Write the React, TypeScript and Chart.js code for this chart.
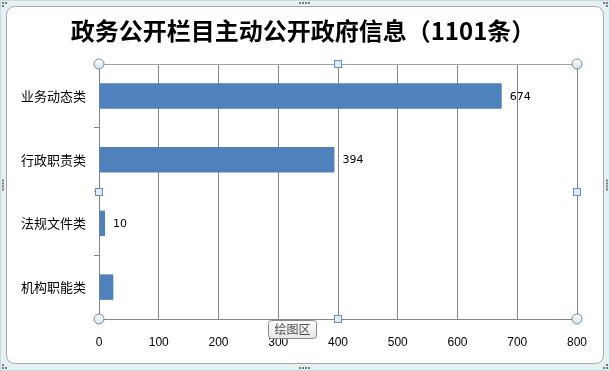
import React, { useEffect, useRef } from "react";
import { Chart, registerables } from "chart.js";

Chart.register(...registerables);

const TITLE = "政务公开栏目主动公开政府信息（1101条）";
const categories = ["业务动态类", "行政职责类", "法规文件类", "机构职能类"];
const values = [674, 394, 10, 24];
const showValueLabel = [true, true, true, false];
const xTicks = [0, 100, 200, 300, 400, 500, 600, 700, 800];

const framePlugin = {
  id: "frame",
  beforeDraw(chart: any) {
    const ctx = chart.ctx;
    const W = chart.width, H = chart.height;
    ctx.save();
    ctx.fillStyle = "#e6f1f3";
    ctx.fillRect(0, 0, W, H);
    ctx.strokeStyle = "#c9dadd";
    ctx.lineWidth = 1;
    ctx.strokeRect(0.5, 0.5, W - 1, H - 1);
    const x0 = 6.5, y0 = 6.5, x1 = W - 6.5, y1 = H - 7.5, r = 9;
    ctx.beginPath();
    ctx.moveTo(x0 + r, y0);
    ctx.lineTo(x1 - r, y0);
    ctx.quadraticCurveTo(x1, y0, x1, y0 + r);
    ctx.lineTo(x1, y1 - r);
    ctx.quadraticCurveTo(x1, y1, x1 - r, y1);
    ctx.lineTo(x0 + r, y1);
    ctx.quadraticCurveTo(x0, y1, x0, y1 - r);
    ctx.lineTo(x0, y0 + r);
    ctx.quadraticCurveTo(x0, y0, x0 + r, y0);
    ctx.closePath();
    ctx.fillStyle = "#ffffff";
    ctx.fill();
    ctx.strokeStyle = "#a6a6a6";
    ctx.stroke();
    ctx.fillStyle = "#7a7a7a";
    const dotsH = (cx: number, cy: number) => {
      for (let i = 0; i < 4; i++) ctx.fillRect(cx + i * 3, cy, 2, 2);
    };
    const dotsV = (cx: number, cy: number) => {
      for (let i = 0; i < 4; i++) ctx.fillRect(cx, cy + i * 3, 2, 2);
    };
    dotsH(W / 2 - 6, 2);
    dotsH(W / 2 - 6, H - 4);
    dotsV(2, H / 2 - 6);
    dotsV(W - 4, H / 2 - 6);
    ctx.fillRect(2, 2, 2, 2); ctx.fillRect(5, 2, 2, 2); ctx.fillRect(2, 5, 2, 2);
    ctx.fillRect(W - 4, 2, 2, 2); ctx.fillRect(W - 7, 2, 2, 2); ctx.fillRect(W - 4, 5, 2, 2);
    ctx.fillRect(2, H - 4, 2, 2); ctx.fillRect(5, H - 4, 2, 2); ctx.fillRect(2, H - 7, 2, 2);
    ctx.fillRect(W - 4, H - 4, 2, 2); ctx.fillRect(W - 7, H - 4, 2, 2); ctx.fillRect(W - 4, H - 7, 2, 2);
    ctx.fillStyle = "#000000";
    ctx.font = "bold 24px 'Noto Sans CJK SC', sans-serif";
    ctx.textAlign = "center";
    ctx.textBaseline = "middle";
    ctx.fillText(TITLE, W / 2 - 2, 31);
    ctx.restore();
  },
  afterDraw(chart: any) {
    const ctx = chart.ctx;
    const a = chart.chartArea;
    ctx.save();
    ctx.strokeStyle = "#a0a0a0";
    ctx.lineWidth = 1;
    ctx.beginPath();
    ctx.moveTo(a.left, Math.round(a.top) + 0.5);
    ctx.lineTo(a.right, Math.round(a.top) + 0.5);
    ctx.stroke();
    const meta = chart.getDatasetMeta(0);
    ctx.fillStyle = "#000000";
    ctx.font = "11px 'DejaVu Sans', sans-serif";
    ctx.textAlign = "left";
    ctx.textBaseline = "middle";
    meta.data.forEach((bar: any, i: number) => {
      if (!showValueLabel[i]) return;
      ctx.fillText(String(values[i]), bar.x + 8, bar.y + 1);
    });
    const cx = (a.left + a.right) / 2;
    const cy = (a.top + a.bottom) / 2;
    const circle = (x: number, y: number) => {
      ctx.beginPath();
      ctx.arc(x, y, 5, 0, Math.PI * 2);
      const g = ctx.createLinearGradient(x, y - 5, x, y + 5);
      g.addColorStop(0, "#ffffff");
      g.addColorStop(1, "#cfe3ea");
      ctx.fillStyle = g;
      ctx.fill();
      ctx.strokeStyle = "#7f8f99";
      ctx.stroke();
    };
    const square = (x: number, y: number) => {
      ctx.fillStyle = "#dcecf7";
      ctx.fillRect(x - 3.5, y - 3.5, 7, 7);
      ctx.strokeStyle = "#6d8db0";
      ctx.strokeRect(x - 3.5, y - 3.5, 7, 7);
    };
    circle(a.left, a.top);
    circle(a.right, a.top);
    circle(a.left, a.bottom);
    circle(a.right, a.bottom);
    square(Math.round(cx), Math.round(a.top));
    square(Math.round(cx), Math.round(a.bottom));
    square(Math.round(a.left), Math.round(cy));
    square(Math.round(a.right), Math.round(cy));
    const tx = 268.5, ty = 320.5, tw = 48, th = 18;
    ctx.beginPath();
    ctx.roundRect(tx, ty, tw, th, 3);
    const tg = ctx.createLinearGradient(0, ty, 0, ty + th);
    tg.addColorStop(0, "#ffffff");
    tg.addColorStop(1, "#e6e6ea");
    ctx.fillStyle = tg;
    ctx.fill();
    ctx.strokeStyle = "#8a8a8a";
    ctx.stroke();
    ctx.fillStyle = "#4d4d4d";
    ctx.font = "12px 'Noto Sans CJK SC', sans-serif";
    ctx.textAlign = "center";
    ctx.textBaseline = "middle";
    ctx.fillText("绘图区", tx + tw / 2, ty + th / 2);
    ctx.restore();
  },
};

export default function App() {
  const ref = useRef<HTMLCanvasElement | null>(null);
  useEffect(() => {
    if (!ref.current) return;
    const chart = new Chart(ref.current, {
      type: "bar",
      data: {
        labels: categories,
        datasets: [
          {
            data: values,
            backgroundColor: "#4f81bd",
            borderWidth: 0,
            categoryPercentage: 1,
            barPercentage: 0.4,
          },
        ],
      },
      options: {
        indexAxis: "y",
        responsive: false,
        animation: false,
        layout: { padding: { top: 64, right: 33, left: 0, bottom: 0 } },
        plugins: {
          legend: { display: false },
          title: { display: false },
          tooltip: { enabled: false },
        },
        scales: {
          x: {
            type: "linear",
            min: 0,
            max: 800,
            afterBuildTicks: (scale: any) => {
              scale.ticks = xTicks.map((v) => ({ value: v }));
            },
            afterFit: (scale: any) => {
              scale.height = 52;
            },
            ticks: {
              color: "#000000",
              font: { family: "'Liberation Sans', sans-serif", size: 12 },
              padding: 16,
              maxRotation: 0,
            },
            grid: {
              color: "#868686",
              drawTicks: false,
              lineWidth: 1,
            },
            border: { color: "#868686" },
          },
          y: {
            type: "category",
            afterFit: (scale: any) => {
              scale.width = 99;
            },
            ticks: {
              color: "#000000",
              font: { family: "'Noto Sans CJK SC', sans-serif", size: 13 },
              padding: 8,
            },
            grid: {
              offset: true,
              drawOnChartArea: false,
              drawTicks: true,
              tickLength: 5,
              color: "#868686",
            },
            border: { color: "#868686" },
          },
        },
      },
      plugins: [framePlugin],
    });
    return () => chart.destroy();
  }, []);
  return (
    <div style={{ position: "absolute", left: 0, top: 0, width: 610, height: 371 }}>
      <canvas ref={ref} width={610} height={371} style={{ display: "block" }} />
    </div>
  );
}
